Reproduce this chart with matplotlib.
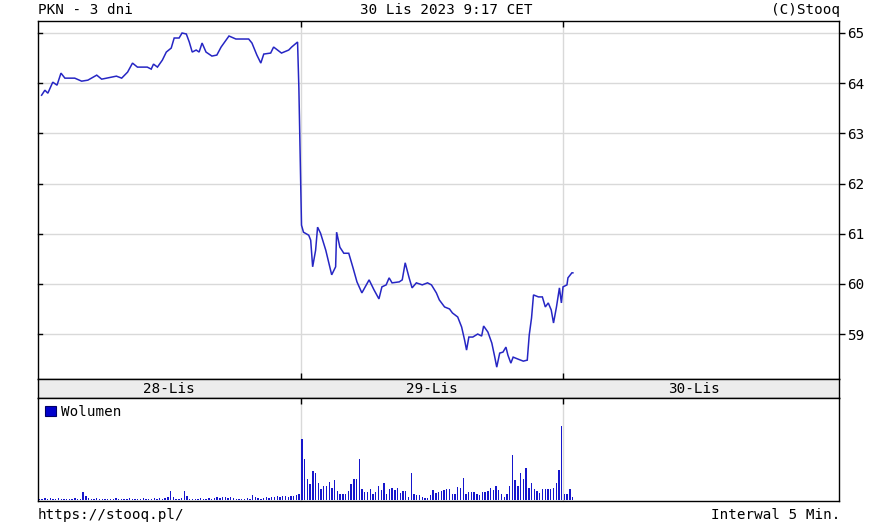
import matplotlib
matplotlib.use("Agg")
import matplotlib.pyplot as plt
from matplotlib.patches import Patch

# ---------------- data ----------------
title_left = "PKN - 3 dni"
title_center = "30 Lis 2023 9:17 CET"
title_right = "(C)Stooq"
footer_left = "https://stooq.pl/"
footer_right = "Interwal 5 Min."
day_labels = ["28-Lis", "29-Lis", "30-Lis"]
session_hours = 8          # hours per trading session shown
bars_per_hour = 12         # 5-minute interval
price_ticks = [59, 60, 61, 62, 63, 64, 65]

# price trace: session hours since 28-Lis open, price (PLN)
price_hours = [
    0.11, 0.21, 0.30, 0.45, 0.58, 0.70, 0.82, 1.12, 1.33, 1.52, 1.79, 1.94, 2.24, 2.39,
    2.55, 2.73, 2.88, 3.03, 3.33, 3.45, 3.52, 3.64, 3.79, 3.91, 4.06, 4.15, 4.30, 4.39,
    4.52, 4.61, 4.70, 4.82, 4.91, 5.00, 5.12, 5.30, 5.45, 5.58, 5.82, 6.03, 6.42, 6.52,
    6.67, 6.79, 6.88, 7.09, 7.18, 7.42, 7.64, 7.73, 7.91, 7.95,
    8.03, 8.09, 8.25, 8.31, 8.37, 8.46, 8.52, 8.61, 8.77, 8.95, 9.07, 9.10, 9.20, 9.32,
    9.47, 9.60, 9.72, 9.87, 10.09, 10.24, 10.39, 10.48, 10.61, 10.70, 10.79, 11.01, 11.10,
    11.19, 11.31, 11.40, 11.53, 11.71, 11.87, 11.99, 12.14, 12.23, 12.39, 12.54, 12.63,
    12.79, 12.91, 13.00, 13.06, 13.13, 13.25, 13.40, 13.52, 13.58, 13.71, 13.83, 13.92,
    13.98, 14.07, 14.17, 14.26, 14.32, 14.41, 14.48, 14.63, 14.79, 14.91, 14.97, 15.04,
    15.10, 15.25, 15.37, 15.46, 15.55, 15.64, 15.71, 15.80, 15.89, 15.95,
    16.00, 16.12, 16.15, 16.27, 16.30,
]
price_values = [
    63.76, 63.86, 63.80, 64.02, 63.96, 64.20, 64.10, 64.10, 64.04, 64.06, 64.16, 64.08, 64.12, 64.14,
    64.10, 64.22, 64.40, 64.32, 64.32, 64.28, 64.38, 64.32, 64.46, 64.62, 64.70, 64.90, 64.90, 65.00,
    64.98, 64.82, 64.62, 64.66, 64.62, 64.80, 64.62, 64.54, 64.56, 64.72, 64.94, 64.88, 64.88, 64.80,
    64.56, 64.40, 64.58, 64.60, 64.72, 64.60, 64.66, 64.72, 64.82, 63.90,
    61.17, 61.03, 60.97, 60.87, 60.34, 60.67, 61.13, 61.01, 60.67, 60.18, 60.34, 61.03, 60.73, 60.61,
    60.61, 60.32, 60.04, 59.82, 60.08, 59.88, 59.70, 59.94, 59.98, 60.12, 60.02, 60.04, 60.08,
    60.42, 60.12, 59.92, 60.02, 59.98, 60.02, 59.98, 59.82, 59.68, 59.54, 59.50, 59.42,
    59.34, 59.14, 58.88, 58.68, 58.94, 58.94, 59.00, 58.96, 59.16, 59.04, 58.82, 58.54,
    58.34, 58.62, 58.64, 58.74, 58.58, 58.42, 58.54, 58.50, 58.46, 58.48, 58.98, 59.32,
    59.78, 59.74, 59.74, 59.54, 59.62, 59.48, 59.22, 59.54, 59.92, 59.62,
    59.94, 59.98, 60.12, 60.22, 60.22,
]

# volume per 5-minute bar (relative units), one list per session
vol_day1 = [
    1, 1, 2, 1, 2, 1, 1, 2, 1, 1,
    1, 1, 1, 2, 1, 1, 8, 4, 2, 1,
    1, 2, 1, 1, 1, 1, 1, 1, 2, 1,
    1, 1, 1, 2, 1, 1, 1, 1, 2, 1,
    1, 1, 2, 1, 2, 1, 2, 3, 9, 3,
    1, 1, 2, 9, 4, 1, 1, 1, 1, 2,
    1, 1, 2, 1, 2, 3, 2, 3, 3, 2,
    3, 2, 1, 1, 1, 1, 2, 1, 5, 3,
    2, 1, 2, 3, 2, 3, 3, 4, 3, 4,
    4, 3, 4, 4, 5, 6,
]
vol_day2 = [
    61, 41, 21, 16, 29, 27, 17, 11, 14, 14,
    18, 12, 20, 9, 6, 6, 6, 9, 16, 21,
    21, 41, 11, 8, 8, 11, 6, 8, 14, 10,
    17, 6, 11, 12, 10, 12, 7, 9, 9, 3,
    27, 6, 5, 5, 3, 2, 2, 5, 10,
    7, 8, 9, 10, 11, 11, 6, 6, 13, 12,
    22, 6, 8, 8, 8, 6, 5, 8, 8, 9,
    12, 10, 14, 10, 6, 3, 6, 14, 45, 20,
    14, 27, 21, 32, 12, 17, 11, 9, 7, 11,
    11, 11, 11, 12, 17, 30, 74,
]
vol_day3 = [6, 6, 11, 3]

# ---------------- figure ----------------
W, H = 873, 527
plt.rcParams['font.family'] = ['DejaVu Sans Mono', 'DejaVu Sans']
FS = 10.3
fig = plt.figure(figsize=(W / 100, H / 100), dpi=100)
fig.patch.set_facecolor('white')

def rect(top_px, bottom_px, left_px=38, right_px=839):
    return [left_px / W, 1 - bottom_px / H, (right_px - left_px) / W, (bottom_px - top_px) / H]

ax_p = fig.add_axes(rect(20.8, 379.2))
ax_b = fig.add_axes(rect(379.2, 397.6))
ax_v = fig.add_axes(rect(397.6, 500.8))

xmax = 24.41
day_edges = [session_hours * i for i in range(1, len(day_labels))]
grid_c = '#d9d9d9'
line_c = '#2626c4'
bar_c = '#1616cc'

# price panel
ax_p.plot(price_hours, price_values, color=line_c, lw=1.1, solid_joinstyle='miter')
ax_p.set_xlim(0, xmax)
ax_p.set_ylim(58.10, 65.243)
ax_p.set_yticks(price_ticks)
ax_p.set_yticklabels([str(v) for v in price_ticks])
ax_p.yaxis.tick_right()
ax_p.tick_params(axis='y', which='both', direction='out', length=4, width=1,
                 labelsize=FS, pad=2, right=True, left=False, colors='black')
for v in price_ticks:
    ax_p.axhline(v, color=grid_c, lw=1, zorder=0)
    ax_p.plot([0, 0.12], [v, v], color='black', lw=1, clip_on=False, zorder=3)
ax_p.set_xticks(day_edges)
ax_p.set_xticklabels([])
ax_p.tick_params(axis='x', direction='in', length=4, width=1, top=True, bottom=True)
for d in day_edges:
    ax_p.axvline(d, color=grid_c, lw=1, zorder=0)

# date band
ax_b.set_facecolor('#ececec')
ax_b.set_xlim(0, xmax)
ax_b.set_ylim(0, 1)
ax_b.set_xticks([])
ax_b.set_yticks([])
for i, lab in enumerate(day_labels):
    ax_b.text(session_hours * (i + 0.5), 0.45, lab, ha='center', va='center', fontsize=FS)

# volume panel
all_days = [vol_day1, vol_day2, vol_day3]
for i, vols in enumerate(all_days):
    xs = [session_hours * i + (k + 0.5) / bars_per_hour for k in range(len(vols))]
    ax_v.bar(xs, vols, width=0.5 / bars_per_hour, color=bar_c, linewidth=0, zorder=2)
ax_v.set_xlim(0, xmax)
ax_v.set_ylim(-0.8, 102)
ax_v.set_yticks([])
ax_v.set_xticks(day_edges)
ax_v.set_xticklabels([])
ax_v.tick_params(axis='x', direction='in', length=4, width=1, top=True, bottom=False)
for d in day_edges:
    ax_v.axvline(d, color=grid_c, lw=1, zorder=0)
leg = ax_v.legend(handles=[Patch(facecolor='#0000cc', edgecolor='#000066', lw=0.8, label='Wolumen')],
                  loc='upper left', frameon=False, fontsize=FS, handlelength=0.75,
                  handleheight=0.75, handletextpad=0.35, borderaxespad=0.2, borderpad=0.3)

for ax in (ax_p, ax_b, ax_v):
    for s in ax.spines.values():
        s.set_color('black')
        s.set_linewidth(1)

# header / footer texts
def fx(px):
    return px / W

def fy(py):
    return 1 - py / H

fig.text(fx(38), fy(10), title_left, ha='left', va='center', fontsize=FS)
fig.text(fx(446), fy(10), title_center, ha='center', va='center', fontsize=FS)
fig.text(fx(840), fy(10), title_right, ha='right', va='center', fontsize=FS)
fig.text(fx(38), fy(515), footer_left, ha='left', va='center', fontsize=FS)
fig.text(fx(840), fy(515), footer_right, ha='right', va='center', fontsize=FS)

fig.savefig('out.png', dpi=100)
